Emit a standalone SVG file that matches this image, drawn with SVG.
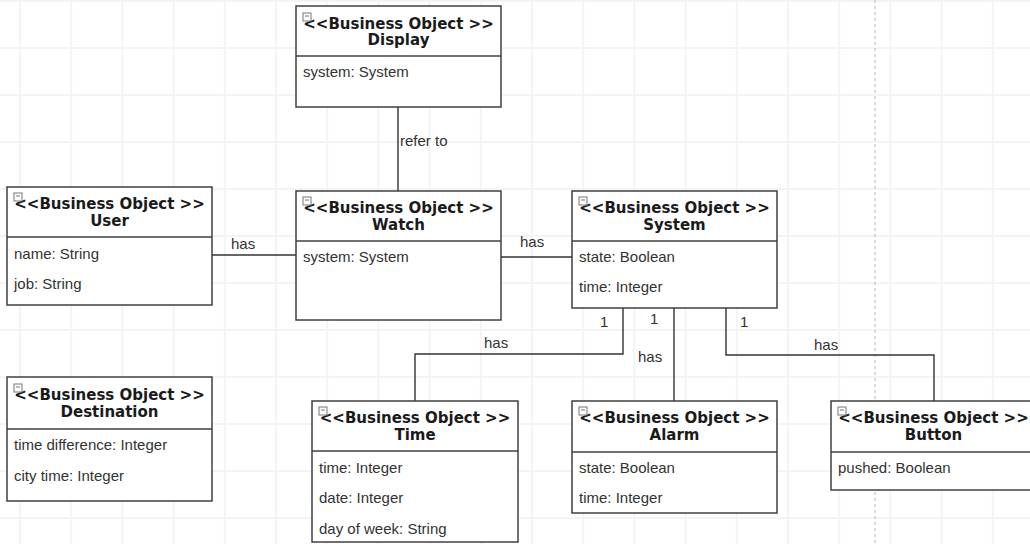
<svg xmlns="http://www.w3.org/2000/svg" width="1030" height="544" viewBox="0 0 1030 544">
<style>
.box{fill:#fff;stroke:#404040;stroke-width:1.5}
.div{stroke:#404040;stroke-width:1.3}
.hd{font-family:"DejaVu Sans",Verdana,sans-serif;font-weight:bold;font-size:15px;fill:#1a1a1a;text-anchor:middle}
.at{font-family:"Liberation Sans",Arial,sans-serif;font-size:15px;fill:#333}
.lb{font-family:"Liberation Sans",Arial,sans-serif;font-size:15px;fill:#333}
.conn{fill:none;stroke:#333;stroke-width:1.4}
.ic{fill:#fff;stroke:#777;stroke-width:1}
</style>
<defs>
<g id="icon"><rect class="ic" x="0" y="0" width="8" height="8"/><line x1="2" y1="3" x2="6" y2="3" stroke="#777" stroke-width="1"/></g>
</defs>
<rect width="1030" height="544" fill="#fff"/>
<g id="grid" stroke="#f4f4f4" stroke-width="2" fill="none">
<path d="M0 1H1030M0 48H1030M0 95H1030M0 142H1030M0 189H1030M0 236H1030M0 283H1030M0 330H1030M0 377H1030M0 424H1030M0 471H1030M0 518H1030"/>
<path d="M20 0V544M71.2 0V544M122.4 0V544M173.6 0V544M224.8 0V544M276 0V544M327.2 0V544M378.4 0V544M429.6 0V544M480.8 0V544M532 0V544M583.2 0V544M634.4 0V544M685.6 0V544M736.8 0V544M788 0V544M839.2 0V544M890.4 0V544M941.6 0V544M992.8 0V544"/>
</g>
<line x1="875" y1="0" x2="875" y2="544" stroke="#b8b8b8" stroke-width="1" stroke-dasharray="3,3"/>

<g id="connectors">
<path class="conn" d="M398 107V191"/>
<path class="conn" d="M212 255H296"/>
<path class="conn" d="M501 257H572"/>
<path class="conn" d="M623 308V354H415V401"/>
<path class="conn" d="M674 308V401"/>
<path class="conn" d="M726 308V355H934V401"/>
<text class="lb" x="400" y="146">refer to</text>
<text class="lb" x="231" y="249">has</text>
<text class="lb" x="520" y="247">has</text>
<text class="lb" x="484" y="348">has</text>
<text class="lb" x="638" y="362">has</text>
<text class="lb" x="814" y="350">has</text>
<text class="lb" x="600" y="327">1</text>
<text class="lb" x="650" y="324">1</text>
<text class="lb" x="740" y="327">1</text>
</g>

<g id="display">
<rect class="box" x="296" y="6" width="205" height="101"/>
<line class="div" x1="296" y1="56" x2="501" y2="56"/>
<text class="hd" x="398.5" y="29">&lt;&lt;Business Object &gt;&gt;</text>
<text class="hd" x="398.5" y="45">Display</text>
<use href="#icon" x="303" y="13"/>
<text class="at" x="303" y="77">system: System</text>
</g>

<g id="user">
<rect class="box" x="7" y="187" width="205" height="118"/>
<line class="div" x1="7" y1="237" x2="212" y2="237"/>
<text class="hd" x="109.5" y="209">&lt;&lt;Business Object &gt;&gt;</text>
<text class="hd" x="109.5" y="226">User</text>
<use href="#icon" x="14" y="193"/>
<text class="at" x="14" y="259">name: String</text>
<text class="at" x="14" y="289">job: String</text>
</g>

<g id="watch">
<rect class="box" x="296" y="191" width="205" height="129"/>
<line class="div" x1="296" y1="241" x2="501" y2="241"/>
<text class="hd" x="398.5" y="213">&lt;&lt;Business Object &gt;&gt;</text>
<text class="hd" x="398.5" y="230">Watch</text>
<use href="#icon" x="303" y="197"/>
<text class="at" x="303" y="262">system: System</text>
</g>

<g id="system">
<rect class="box" x="572" y="191" width="205" height="117"/>
<line class="div" x1="572" y1="241" x2="777" y2="241"/>
<text class="hd" x="674.5" y="213">&lt;&lt;Business Object &gt;&gt;</text>
<text class="hd" x="674.5" y="230">System</text>
<use href="#icon" x="579" y="197"/>
<text class="at" x="579" y="262">state: Boolean</text>
<text class="at" x="579" y="292">time: Integer</text>
</g>

<g id="destination">
<rect class="box" x="7" y="377" width="205" height="124"/>
<line class="div" x1="7" y1="429" x2="212" y2="429"/>
<text class="hd" x="109.5" y="400">&lt;&lt;Business Object &gt;&gt;</text>
<text class="hd" x="109.5" y="417">Destination</text>
<use href="#icon" x="14" y="384"/>
<text class="at" x="14" y="450">time difference: Integer</text>
<text class="at" x="14" y="481">city time: Integer</text>
</g>

<g id="time">
<rect class="box" x="312" y="401" width="206" height="141"/>
<line class="div" x1="312" y1="451" x2="518" y2="451"/>
<text class="hd" x="415" y="423">&lt;&lt;Business Object &gt;&gt;</text>
<text class="hd" x="415" y="440">Time</text>
<use href="#icon" x="319" y="407"/>
<text class="at" x="319" y="473">time: Integer</text>
<text class="at" x="319" y="503">date: Integer</text>
<text class="at" x="319" y="534">day of week: String</text>
</g>

<g id="alarm">
<rect class="box" x="572" y="401" width="205" height="112"/>
<line class="div" x1="572" y1="452" x2="777" y2="452"/>
<text class="hd" x="674.5" y="423">&lt;&lt;Business Object &gt;&gt;</text>
<text class="hd" x="674.5" y="440">Alarm</text>
<use href="#icon" x="579" y="407"/>
<text class="at" x="579" y="473">state: Boolean</text>
<text class="at" x="579" y="503">time: Integer</text>
</g>

<g id="button">
<rect class="box" x="831" y="401" width="205" height="89"/>
<line class="div" x1="831" y1="452" x2="1036" y2="452"/>
<text class="hd" x="933.5" y="423">&lt;&lt;Business Object &gt;&gt;</text>
<text class="hd" x="933.5" y="440">Button</text>
<use href="#icon" x="838" y="407"/>
<text class="at" x="838" y="473">pushed: Boolean</text>
</g>
</svg>
